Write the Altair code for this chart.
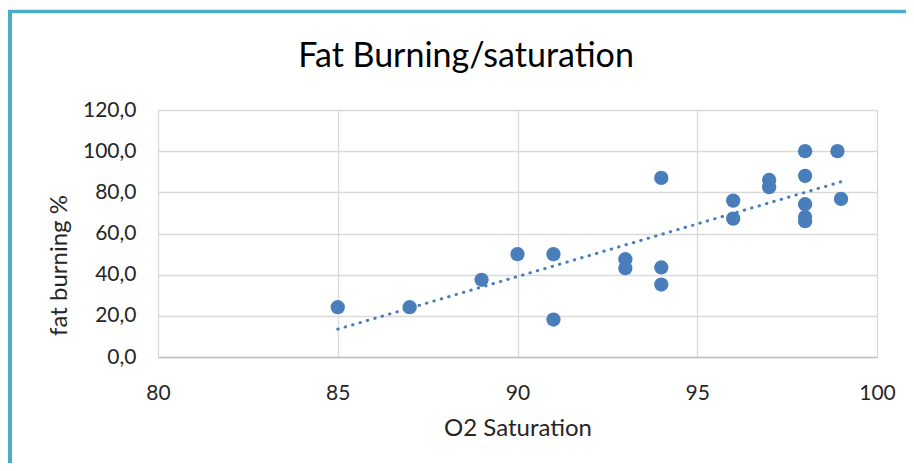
import altair as alt
import pandas as pd

o2 = [85, 87, 89, 90, 91, 91, 93, 93, 94, 94, 94, 96, 96, 97, 97, 98, 98, 98, 98, 98, 98.9, 99]
fat = [24.2, 24.2, 37.5, 50.0, 50.0, 18.2, 47.5, 43.2, 87.0, 43.5, 35.2, 76.0, 67.2, 86.0, 82.5,
       100.0, 88.0, 74.2, 68.0, 66.0, 100.0, 76.8]

title_text = "Fat Burning/satura\u200ction"
x_title = "O2 Satura\u200ction"
y_title = "fat burning %"
x_ticks = [80, 85, 90, 95, 100]
y_ticks = [0, 20, 40, 60, 80, 100, 120]

df = pd.DataFrame({"o2": o2, "fat": fat})

W, H = 719, 247
PAD = {"left": 150, "top": 102, "right": 29, "bottom": 106}
FONT = "Lato"
TXT = "#262626"
BLUE = "#4a7ebb"

xs = alt.Scale(domain=[80, 100], nice=False, zero=False)
ys = alt.Scale(domain=[0, 120], nice=False)

x_axis = alt.Axis(values=x_ticks, title=x_title, grid=True, gridColor="#d9d9d9", gridWidth=1.3,
                  domainColor="#bfbfbf", domainWidth=1.5, ticks=False, tickSize=0,
                  labelFlush=False, labelOverlap=False,
                  labelFont=FONT, labelFontSize=21, labelColor=TXT, labelPadding=25,
                  titleFont=FONT, titleFontSize=24, titleFontWeight="normal", titleColor=TXT,
                  titleY=71, titleBaseline="middle")
y_axis = alt.Axis(values=y_ticks, title=y_title, grid=True, gridColor="#d9d9d9", gridWidth=1.3,
                  domain=False, ticks=False, tickSize=0, labelFlush=False, labelOverlap=False,
                  labelExpr="replace(format(datum.value, '.1f'), '.', ',')",
                  labelFont=FONT, labelFontSize=21, labelColor=TXT, labelPadding=22,
                  titleFont=FONT, titleFontSize=24, titleFontWeight="normal", titleColor=TXT,
                  titleX=-99, titleY=155, titleBaseline="middle", titleAngle=-90)

base = alt.Chart(df)

points = base.mark_circle(size=205, color=BLUE, opacity=1).encode(
    x=alt.X("o2:Q", scale=xs, axis=x_axis),
    y=alt.Y("fat:Q", scale=ys, axis=y_axis),
)

trend = base.transform_regression("o2", "fat", method="linear").mark_line(
    color=BLUE, strokeWidth=3, strokeDash=[0.5, 7.2], strokeCap="round"
).encode(x=alt.X("o2:Q", scale=xs), y=alt.Y("fat:Q", scale=ys))

title = alt.Chart(pd.DataFrame({"t": [title_text]})).mark_text(
    font=FONT, fontSize=34, color="#000000", align="center", baseline="alphabetic"
).encode(text="t:N", x=alt.value(308), y=alt.value(-43))

frame_left = alt.Chart(pd.DataFrame({"a": [0]})).mark_rule(color="#4bacc6", strokeWidth=4).encode(
    x=alt.value(-148), y=alt.value(-100), y2=alt.value(360))
frame_top = alt.Chart(pd.DataFrame({"a": [0]})).mark_rule(color="#4bacc6", strokeWidth=3.5).encode(
    y=alt.value(-98.5), x=alt.value(-150), x2=alt.value(760))

chart = alt.layer(trend, points, title, frame_left, frame_top).properties(
    width=W, height=H, padding=PAD, autosize=alt.AutoSizeParams(type="none"),
    background="white"
).configure_view(stroke=None)

chart.save("out.html", embed_options={"renderer": "svg", "actions": False})
